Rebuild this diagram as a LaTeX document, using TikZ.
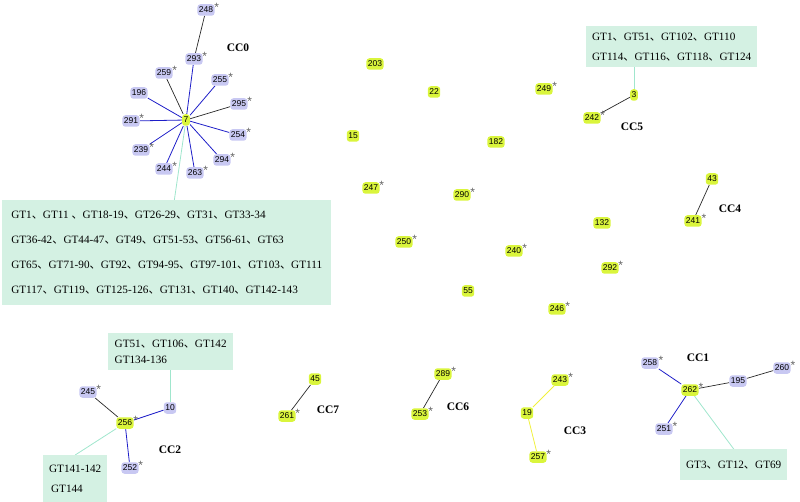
\documentclass[tikz,border=0pt]{standalone}
\usepackage{fontspec}
\setmainfont{Liberation Serif}
\setsansfont{Liberation Sans}
\newfontfamily\cjkfont{Noto Sans CJK SC}
\newcommand\gtsep{{\cjkfont 、}}
\usetikzlibrary{backgrounds}
\definecolor{lavc}{RGB}{200,200,242}
\definecolor{ylwc}{RGB}{218,245,60}
\definecolor{boxc}{RGB}{212,241,227}
\definecolor{linkc}{RGB}{160,230,205}
\definecolor{bluec}{RGB}{30,30,200}
\definecolor{blkc}{RGB}{40,40,40}
\definecolor{yedge}{RGB}{240,240,60}
\definecolor{astc}{RGB}{100,100,100}
\tikzset{
  nd/.style={rounded corners=3pt, inner xsep=1.5pt, inner ysep=0.5pt, minimum height=11.5pt,
             font=\sffamily\fontsize{8.5}{8.5}\selectfont, text=black},
  lav/.style={nd, fill=lavc},
  ylw/.style={nd, fill=ylwc},
  asterisk/.style={inner sep=0pt, text=astc, font=\sffamily\fontsize{12}{12}\selectfont, xshift=-0.5pt, yshift=2.5pt},
  ast/.style={label={[asterisk]east:*}},
  ccl/.style={font=\bfseries\fontsize{11.5}{11.5}\selectfont},
  gtbox/.style={fill=boxc, align=left, inner sep=0pt},
  be/.style={draw=bluec, line width=0.8pt},
  ke/.style={draw=blkc, line width=0.7pt},
  ye/.style={draw=yedge, line width=0.8pt},
  le/.style={draw=linkc, line width=0.8pt}
}
\begin{document}
\begin{tikzpicture}[x=1pt,y=-1pt]
\useasboundingbox (0,0) rectangle (800,502);

% ---------- boxes ----------
\node[gtbox, minimum width=329, minimum height=105, anchor=north west,
      font=\fontsize{11.2}{25}\selectfont] (box0) at (2,200)
  {GT1\gtsep GT11 \gtsep GT18-19\gtsep GT26-29\gtsep GT31\gtsep GT33-34\\
   GT36-42\gtsep GT44-47\gtsep GT49\gtsep GT51-53\gtsep GT56-61\gtsep GT63\\
   GT65\gtsep GT71-90\gtsep GT92\gtsep GT94-95\gtsep GT97-101\gtsep GT103\gtsep GT111\\
   GT117\gtsep GT119\gtsep GT125-126\gtsep GT131\gtsep GT140\gtsep GT142-143};
\node[gtbox, minimum width=171, minimum height=41, anchor=north west,
      font=\fontsize{11.2}{20}\selectfont] (box5) at (586,26)
  {GT1\gtsep GT51\gtsep GT102\gtsep GT110\\
   GT114\gtsep GT116\gtsep GT118\gtsep GT124};
\node[gtbox, minimum width=125, minimum height=37, anchor=north west,
      font=\fontsize{11.2}{16.5}\selectfont] (box2a) at (108,333)
  {GT51\gtsep GT106\gtsep GT142\\
   GT134-136};
\node[gtbox, minimum width=64, minimum height=47, anchor=north west,
      font=\fontsize{11.2}{20}\selectfont] (box2b) at (43,455)
  {GT141-142\\
   \hspace*{2pt}GT144};
\node[gtbox, minimum width=107, minimum height=31, anchor=north west,
      font=\fontsize{11.2}{12}\selectfont] (box1) at (680,449)
  {GT3\gtsep GT12\gtsep GT69};

% ---------- CC0 ----------
\node[ylw] (n7) at (186,120) {7};
\node[lav,ast] (n248) at (206,10) {248};
\node[lav,ast] (n293) at (194,59) {293};
\node[lav,ast] (n259) at (164,73) {259};
\node[lav,ast] (n255) at (220,80) {255};
\node[lav] (n196) at (139,93) {196};
\node[lav,ast] (n295) at (239,104) {295};
\node[lav,ast] (n291) at (131,121) {291};
\node[lav,ast] (n254) at (238,135) {254};
\node[lav,ast] (n239) at (141,150) {239};
\node[lav,ast] (n294) at (222,160) {294};
\node[lav,ast] (n244) at (164,169) {244};
\node[lav,ast] (n263) at (195,173) {263};
\node[ccl] (cc0) at (238,48) {CC0};

% ---------- CC5 ----------
\node[ylw] (n3) at (634,95) {3};
\node[ylw,ast] (n242) at (592,118) {242};
\node[ccl] (cc5) at (632,127) {CC5};

% ---------- isolated ----------
\node[ylw,ast] (n249) at (544,89) {249};
\node[ylw] (n203) at (375,64) {203};
\node[ylw] (n22) at (434,92) {22};
\node[ylw] (n15) at (353,136) {15};
\node[ylw] (n182) at (496,142) {182};
\node[ylw,ast] (n247) at (371,188) {247};
\node[ylw,ast] (n290) at (462,195) {290};
\node[ylw,ast] (n250) at (404,242) {250};
\node[ylw,ast] (n240) at (514,251) {240};
\node[ylw] (n132) at (602,223) {132};
\node[ylw] (n55) at (468,291) {55};
\node[ylw,ast] (n246) at (557,309) {246};
\node[ylw,ast] (n292) at (610,268) {292};

% ---------- CC4 ----------
\node[ylw] (n43) at (712,179) {43};
\node[ylw,ast] (n241) at (693,221) {241};
\node[ccl] (cc4) at (730,209) {CC4};

% ---------- CC7 ----------
\node[ylw] (n45) at (315,379) {45};
\node[ylw,ast] (n261) at (287,416) {261};
\node[ccl] (cc7) at (328,410) {CC7};

% ---------- CC6 ----------
\node[ylw,ast] (n289) at (443,374) {289};
\node[ylw,ast] (n253) at (420,414) {253};
\node[ccl] (cc6) at (458,407) {CC6};

% ---------- CC3 ----------
\node[ylw,ast] (n243) at (560,380) {243};
\node[ylw] (n19) at (527,413) {19};
\node[ylw,ast] (n257) at (538,457) {257};
\node[ccl] (cc3) at (575,431) {CC3};

% ---------- CC2 ----------
\node[lav] (n10) at (170,408) {10};
\node[ylw,ast] (n256) at (125,423) {256};
\node[lav,ast] (n245) at (88,392) {245};
\node[lav,ast] (n252) at (130,468) {252};
\node[ccl] (cc2) at (170,450) {CC2};

% ---------- CC1 ----------
\node[lav,ast] (n258) at (650,363) {258};
\node[ylw,ast] (n262) at (690,390) {262};
\node[lav] (n195) at (738,381) {195};
\node[lav,ast] (n260) at (782,368) {260};
\node[lav,ast] (n251) at (664,429) {251};
\node[ccl] (cc1) at (698,358) {CC1};

% ---------- edges ----------
\begin{scope}[on background layer]
  \draw[le] (n7) -- (box0);
  \draw[ke] (n248) -- (n293);
  \draw[be] (n7) -- (n293);
  \draw[ke] (n7) -- (n259);
  \draw[be] (n7) -- (n255);
  \draw[be] (n7) -- (n196);
  \draw[ke] (n7) -- (n295);
  \draw[be] (n7) -- (n291);
  \draw[be] (n7) -- (n254);
  \draw[be] (n7) -- (n239);
  \draw[be] (n7) -- (n294);
  \draw[be] (n7) -- (n244);
  \draw[be] (n7) -- (n263);

  \draw[le] (n3) -- (n3 |- box5.south);
  \draw[ke] (n3) -- (n242);

  \draw[ke] (n43) -- (n241);
  \draw[ke] (n45) -- (n261);
  \draw[ke] (n289) -- (n253);
  \draw[ye] (n243) -- (n19);
  \draw[ye] (n19) -- (n257);

  \draw[le] (n10) -- (n10 |- box2a.south);
  \draw[le] (n256) -- (box2b.north);
  \draw[ke] (n245) -- (n256);
  \draw[be] (n256) -- (n10);
  \draw[be] (n256) -- (n252);

  \draw[le] (n262) -- (box1.north);
  \draw[be] (n258) -- (n262);
  \draw[be] (n262) -- (n251);
  \draw[ke] (n262) -- (n195);
  \draw[ke] (n195) -- (n260);
\end{scope}
\end{tikzpicture}
\end{document}
